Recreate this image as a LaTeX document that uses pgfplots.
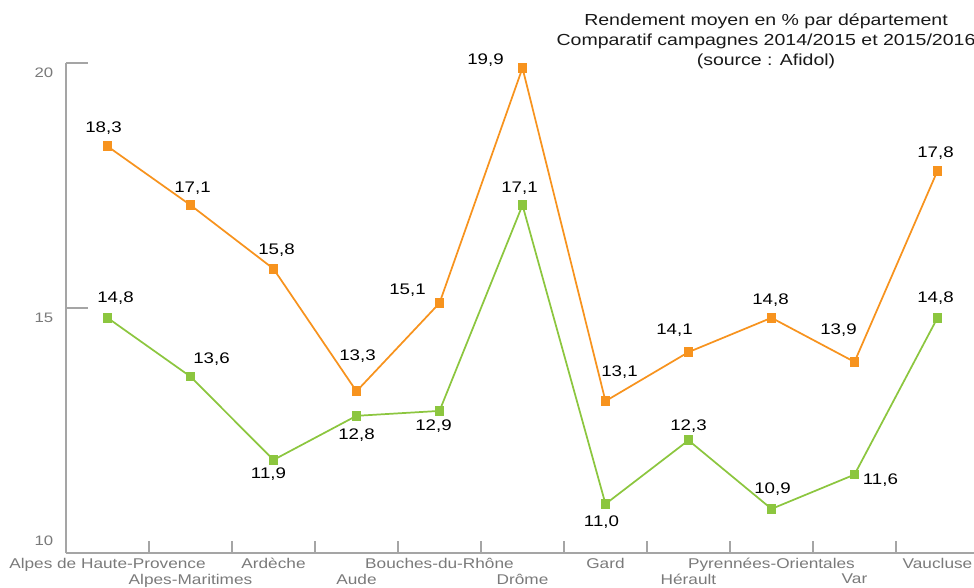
\documentclass[border=0pt]{standalone}
\usepackage{fontspec}
\setmainfont{Liberation Sans}[FakeStretch=1.22]
\usepackage{pgfplots}
\pgfplotsset{compat=1.18}
\usepackage{pgfplotstable}
\definecolor{orangeL}{HTML}{F7931E}
\definecolor{greenL}{HTML}{8CC63F}
\definecolor{axgrey}{HTML}{A5A5A5}
\definecolor{txtgrey}{HTML}{7A7A7A}

% dx, dy: label offset in px (right, up)
\pgfplotstableread{
x y dx dy
0 18.3 -4 18
1 17.1 2 17
2 15.8 3 19
3 13.3 1 35
4 15.1 -32 13
5 19.9 -37 8
6 13.1 14 29
7 14.1 -14 22
8 14.8 -1 18
9 13.9 -16 32
10 17.8 -2 18
}\orangedata

\pgfplotstableread{
x y dx dy
0 14.8 8 20
1 13.6 21 17
2 11.9 -5 -14
3 12.8 0 -19
4 12.9 -6 -15
5 17.1 -3 17
6 11.0 -4 -18
7 12.3 0 14
8 10.9 1 20
9 11.6 26 -6
10 14.8 -2 20
}\greendata

\begin{document}
\begin{tikzpicture}[x=0.75pt,y=0.75pt]
\path[use as bounding box] (0pt,0pt) rectangle (730.5pt,-440.25pt);
\begin{axis}[
  at={(49.5pt,-414.75pt)}, anchor=south west,
  scale only axis, width=681pt, height=367.5pt,
  xmin=-0.5, xmax=10.44, ymin=10, ymax=20,
  axis lines=left,
  axis line style={draw=axgrey, line width=0.9pt, -},
  tick align=inside,
  tick style={draw=axgrey, line width=0.9pt},
  major tick length=16.5pt,
  minor tick length=9pt,
  xtick={0,2,4,6,8,10},
  xticklabels={Alpes de Haute-Provence, Ardèche, Bouches-du-Rhône, Gard, Pyrennées-Orientales, Vaucluse},
  extra x ticks={1,3,5,7,9},
  extra x tick labels={Alpes-Maritimes, Aude, Drôme, Hérault, Var},
  extra x tick style={xticklabel style={yshift=-12pt}},
  major x tick style={draw=none},
  minor xtick={-0.5,0.5,...,9.5},
  ytick={15,20},
  extra y ticks={10},
  extra y tick style={yticklabel style={yshift=16pt}, major tick length=0pt},
  /pgf/number format/assume math mode=true,
  xticklabel style={text=txtgrey, font=\fontsize{10.6}{12}\selectfont, inner sep=2pt, yshift=-1.5pt},
  yticklabel style={text=txtgrey, font=\fontsize{10.3}{12}\selectfont, xshift=-6pt, yshift=-7pt},
  clip=false,
  every axis plot/.append style={line width=1.3pt},
  nodes near coords={\pgfmathprintnumber[fixed,fixed zerofill,precision=1,use comma,assume math mode=true]{\pgfplotspointmeta}},
  point meta=y,
  visualization depends on={\thisrow{dx} \as \dx},
  visualization depends on={\thisrow{dy} \as \dy},
  nodes near coords style={anchor=center, xshift=\dx*0.75pt, yshift=\dy*0.75pt, text=black, font=\fontsize{11.5}{13}\selectfont},
]
\addplot[orangeL, mark=square*, mark size=3pt, mark options={fill=orangeL, draw=orangeL, solid}] table[x=x,y=y]{\orangedata};
\addplot[greenL, mark=square*, mark size=3pt, mark options={fill=greenL, draw=greenL, solid}] table[x=x,y=y]{\greendata};
\end{axis}
\node[align=center, font=\fontsize{12}{15}\selectfont, text=black!90] at (574.5pt,-31pt) {Rendement moyen en \% par département\\Comparatif campagnes 2014/2015 et 2015/2016\\(source : Afidol)};
\end{tikzpicture}
\end{document}
